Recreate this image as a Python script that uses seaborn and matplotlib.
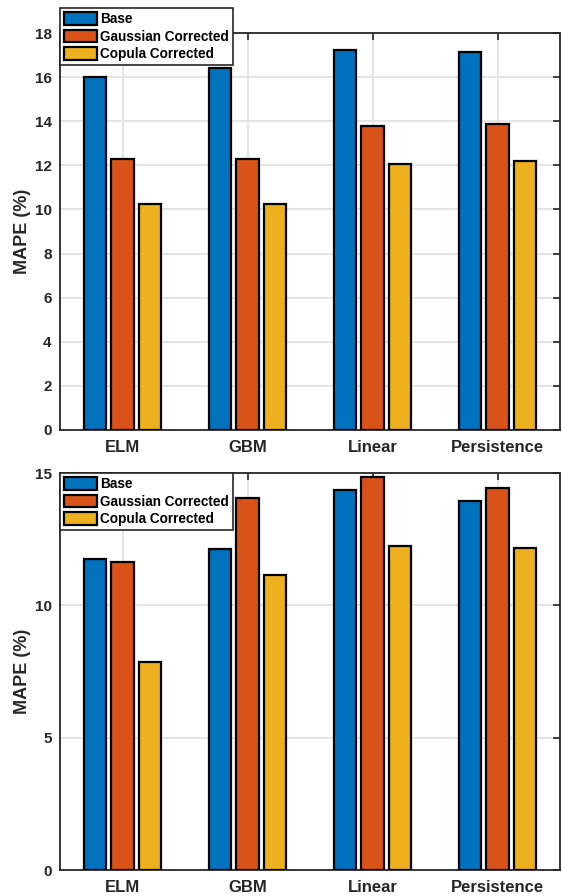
import matplotlib
matplotlib.use("Agg")
import matplotlib.pyplot as plt
import seaborn as sns
import pandas as pd

categories = ["ELM", "GBM", "Linear", "Persistence"]
series = ["Base", "Gaussian Corrected", "Copula Corrected"]
top_base = [16.0, 16.41, 17.25, 17.16]
top_gauss = [12.28, 12.28, 13.80, 13.88]
top_copula = [10.27, 10.27, 12.07, 12.19]
bot_base = [11.75, 12.12, 14.37, 13.95]
bot_gauss = [11.64, 14.05, 14.85, 14.42]
bot_copula = [7.85, 11.14, 12.25, 12.16]
top_yticks = [0, 2, 4, 6, 8, 10, 12, 14, 16, 18]
bot_yticks = [0, 5, 10, 15]
colors = ["#0072BD", "#D95319", "#EDB120"]

sns.set_theme(style="white")
plt.rcParams["font.family"] = ["Liberation Sans", "DejaVu Sans"]
plt.rcParams["font.weight"] = "bold"
TXT = "#262626"


def make_df(b, g, c):
    rows = []
    for s, vals in zip(series, [b, g, c]):
        for cat, v in zip(categories, vals):
            rows.append({"cat": cat, "series": s, "val": v})
    return pd.DataFrame(rows)


fig = plt.figure(figsize=(5.62, 8.96), dpi=100)
ax1 = fig.add_axes([0.1068, 0.5201, 0.8897, 0.443])
ax2 = fig.add_axes([0.1068, 0.0290, 0.8897, 0.4430])

panels = [
    (ax1, make_df(top_base, top_gauss, top_copula), top_yticks, (0, 18), 0.991),
    (ax2, make_df(bot_base, bot_gauss, bot_copula), bot_yticks, (0, 15), 0.4720),
]

for ax, df, yt, ylim, legtop in panels:
    sns.barplot(data=df, x="cat", y="val", hue="series", hue_order=series,
                order=categories, palette=colors, saturation=1,
                width=0.667, gap=0.2,
                edgecolor="black", linewidth=1.6, errorbar=None, ax=ax,
                zorder=3)
    ax.set_xlim(-0.5, 3.5)
    ax.set_ylim(*ylim)
    ax.set_yticks(yt)
    ax.set_yticklabels([str(v) for v in yt])
    ax.set_xticks(range(len(categories)))
    ax.set_xticklabels(categories)
    ax.set_xlabel("")
    ax.set_ylabel("MAPE (%)", fontsize=13, fontweight="bold", color=TXT,
                  labelpad=3)
    ax.grid(True, color="#e3e3e3", linewidth=1.3, zorder=0)
    ax.set_axisbelow(True)
    ax.tick_params(axis="both", direction="in", length=5, width=1.2,
                   colors=TXT, labelsize=11, top=True, right=True,
                   labelcolor=TXT)
    ax.tick_params(axis="y", pad=6)
    ax.tick_params(axis="x", pad=7, labelsize=12)
    for lab in ax.get_xticklabels() + ax.get_yticklabels():
        lab.set_fontweight("bold")
    for sp in ax.spines.values():
        sp.set_visible(True)
        sp.set_color(TXT)
        sp.set_linewidth(1.3)
    h, l = ax.get_legend_handles_labels()
    ax.get_legend().remove()
    leg = fig.legend(h, l, loc="upper left", bbox_to_anchor=(0.1068, legtop),
                     bbox_transform=fig.transFigure, frameon=True,
                     fancybox=False, edgecolor=TXT, framealpha=1,
                     prop={"size": 9.8, "weight": "bold"},
                     handlelength=2.4, handleheight=1.05, labelspacing=0.25,
                     handletextpad=0.25, borderpad=0.3, borderaxespad=0)
    leg.get_frame().set_linewidth(1.2)
    for t in leg.get_texts():
        t.set_color("black")

fig.savefig("out.png", dpi=100)
